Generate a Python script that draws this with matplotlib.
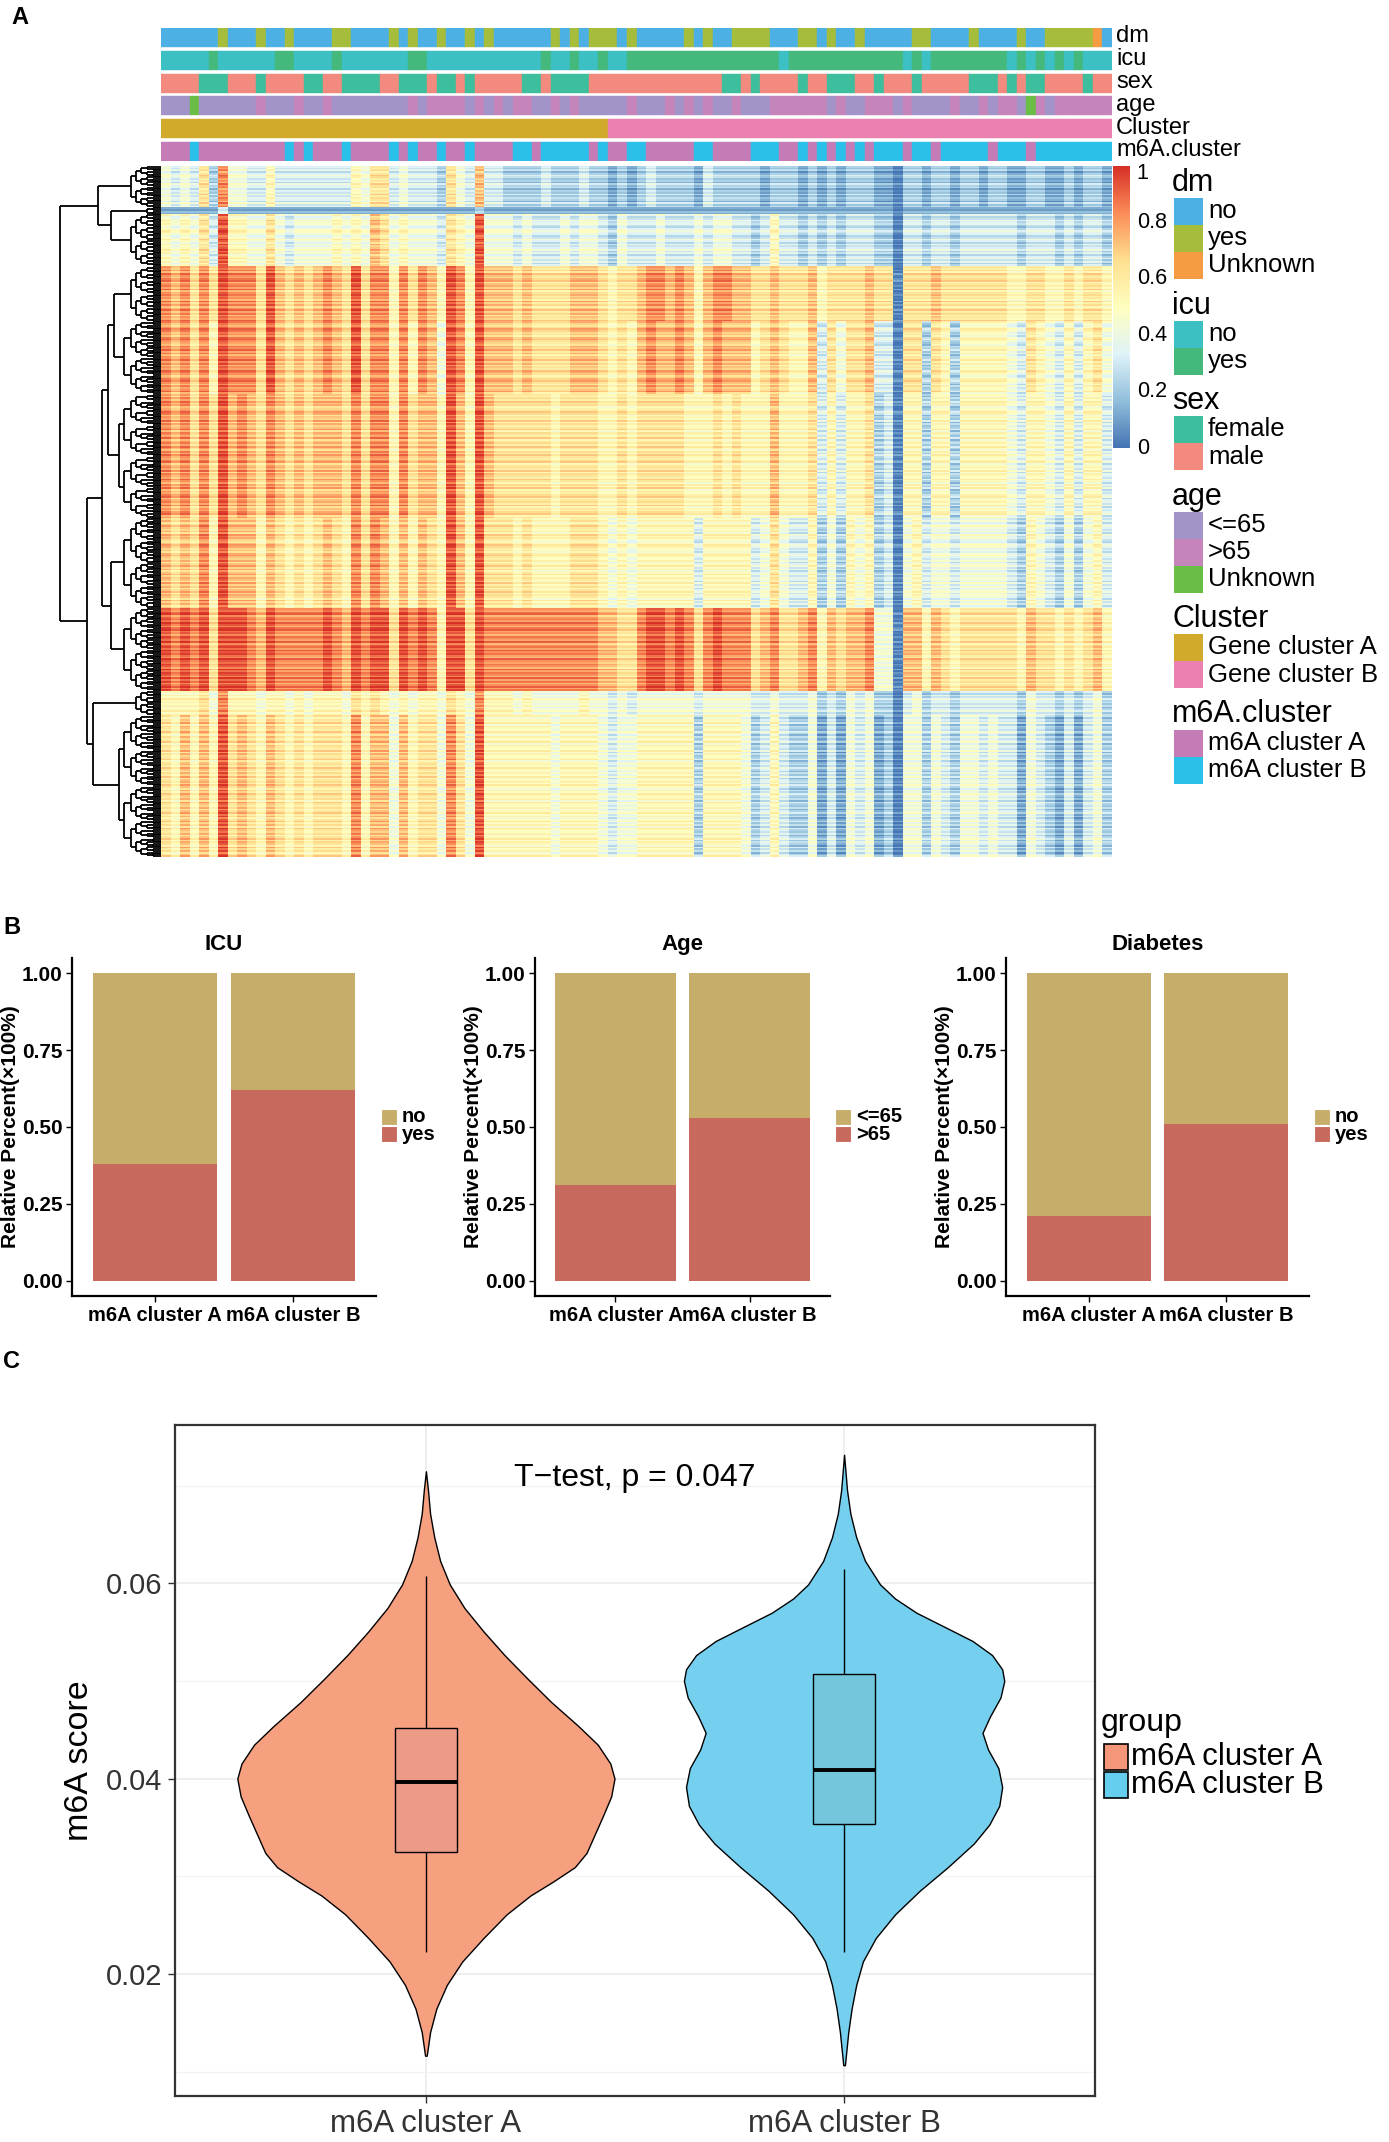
import numpy as np
import matplotlib
matplotlib.use('Agg')
import matplotlib.pyplot as plt
from matplotlib.colors import LinearSegmentedColormap
from matplotlib.patches import Rectangle
from matplotlib.collections import LineCollection

SANS = ['Liberation Sans', 'DejaVu Sans']
plt.rcParams['font.family'] = SANS

W, H = 1389, 2142
fig = plt.figure(figsize=(W / 100, H / 100), dpi=100)


def pax(x0, y0, x1, y1):
    return fig.add_axes([x0 / W, 1 - y1 / H, (x1 - x0) / W, (y1 - y0) / H])

# ---------------------------------------------------------------- data (A)
N_SAMPLES = 100
dm_yes = [6, 10, 13, 18, 19, 24, 26, 29, 32, 34, 41, 43, 45, 46, 47, 49, 55, 57, 60, 61,
          62, 63, 67, 68, 70, 73, 79, 80, 85, 90, 93, 94, 95, 96, 97]
dm_unknown = [98]
icu_yes = [5, 12, 13, 18, 26, 27, 40, 43, 46, 49, 50, 51, 52, 53, 54, 55, 56, 57, 58, 59,
           60, 61, 62, 63, 64, 66, 67, 68, 69, 70, 71, 72, 73, 74, 75, 76, 77, 79, 81, 82,
           83, 84, 85, 86, 87, 88, 90, 92, 94, 96]
sex_female = [4, 5, 6, 10, 15, 16, 19, 20, 21, 22, 25, 26, 27, 29, 30, 32, 38, 39, 41, 42,
              43, 44, 59, 60, 62, 67, 70, 71, 72, 75, 79, 85, 86, 87, 89, 91, 92, 97]
age_gt65 = [10, 14, 17, 26, 28, 29, 30, 31, 33, 35, 37, 38, 41, 43, 49, 53, 55, 57, 60, 64,
            65, 66, 67, 68, 69, 71, 74, 75, 76, 78, 83, 86, 88, 89, 92, 94, 95, 96, 97, 98, 99]
age_unknown = [3, 91]
gene_cluster_A_n = 47
m6a_cluster_B = [3, 13, 15, 19, 24, 26, 29, 32, 37, 38, 40, 41, 42, 43, 44, 46, 49, 50, 56,
                 57, 62, 63, 64, 67, 69, 71, 73, 75, 76, 77, 79, 80, 82, 83, 84, 85, 86, 88,
                 89, 90, 92, 93, 94, 95, 96, 97, 98, 99]

# heatmap: per row-band column levels (digit d -> d/10 + 0.03)
band_cols = [
    "4343628443" "3533333333" "5466343332" "6437332222" "3222322121"
    "2322221322" "2221222121" "2122211022" "1221221221" "1221121221",
    "1111113111" "1111111111" "1111111111" "1112111111" "1111111111"
    "1111111111" "1111111111" "1111111011" "1111111111" "1111111111",
    "5454639554" "4643444454" "5476454443" "6549444343" "3343443243"
    "3343334344" "3323533232" "3233322033" "2332333333" "2333232332",
    "8786869888" "6976767876" "9688586875" "9859777676" "6667776566"
    "7887875788" "7766766675" "6666766066" "6766666665" "5665565665",
    "8786859888" "6976767876" "9688585874" "9859777676" "6667776565"
    "7877875787" "7756765573" "6466733066" "2652555554" "3654353564",
    "8786869787" "6876767776" "8688586775" "9759766666" "6566665565"
    "6666655565" "6555755563" "5355623055" "2552555554" "3554353553",
    "7676859777" "5765656765" "8687575765" "9759666565" "5556665454"
    "5555553555" "5534643352" "4254523045" "3443444443" "2543242453",
    "9898969998" "7988888987" "9899698985" "9969888888" "8888887766"
    "8998986898" "8867866785" "7677844077" "5765666666" "5766565675",
    "5555648555" "4554545554" "6565454554" "6548555454" "4444544343"
    "4444443444" "4433433342" "3243422034" "2332333333" "2433232342",
    "6575759676" "5765656665" "8577475664" "8649555555" "5455554344"
    "5555552555" "5423532241" "3143412044" "2432443433" "1432131342",
]
# per-row streak shifts inside each band (0..4 -> -0.09..+0.09)
band_rows = [
    "213024312042302141320413",
    "2132",
    "301423102432014203124130241302",
    "21304213402314023120413024130214",
    "310243120342103241302241302143201342031240",
    "203142301243021403124032140231420314213402314032142031402134023140213402",
    "1302421304231024312034213024130241320413024132041302",
    "213402314203412032140231423104213204132041302413",
    "20314231302413",
    "3021403214203124032140312402314203140231420314213042130241302413042130241320413024",
]
row_shift = {'0': -0.09, '1': -0.045, '2': 0.0, '3': 0.045, '4': 0.09}

# dendrogram merge heights (px-like distance from heatmap edge)
size_heights = [0, 8, 14, 20, 25, 30, 37, 42, 44]
band_merges = {'b1b2': 50, 'top': 63, 'b3b4': 47, 'b345': 53, 'b67': 50,
               'mid': 59, 'b89': 68, 'rest': 74, 'root': 101}

# colour-bar ticks
cb_ticks = [0, 0.2, 0.4, 0.6, 0.8, 1]
cb_labels = ['0', '0.2', '0.4', '0.6', '0.8', '1']

# ---------------------------------------------------------------- data (B)
groups = ['m6A cluster A', 'm6A cluster B']
icu_yes_frac = [0.38, 0.62]
age_gt65_frac = [0.31, 0.53]
dm_yes_frac = [0.21, 0.51]

# ---------------------------------------------------------------- data (C)
vA_y = [0.07146, 0.06953, 0.06712, 0.0647, 0.06229, 0.05988, 0.05747, 0.05505, 0.05264,
        0.05023, 0.04782, 0.0454, 0.04347, 0.04154, 0.04, 0.03817, 0.03624, 0.03431,
        0.03238, 0.03093, 0.02948, 0.02803, 0.0261, 0.02369, 0.02128, 0.01887, 0.01645,
        0.01404, 0.01163]
vA_w = [0, .005, .010, .020, .034, .057, .092, .138, .188, .243, .300, .364, .411, .441,
        .451, .443, .424, .404, .384, .356, .305, .250, .193, .138, .087, .050, .025, .010,
        .002]
vB_y = [0.07315, 0.06953, 0.06712, 0.0647, 0.06229, 0.05988, 0.05843, 0.05698, 0.05554,
        0.05409, 0.05264, 0.05119, 0.04999, 0.0483, 0.04637, 0.04468, 0.04299, 0.04106,
        0.03913, 0.0372, 0.03527, 0.03334, 0.03093, 0.02852, 0.0261, 0.02369, 0.02128,
        0.01887, 0.01645, 0.01404, 0.01066]
vB_w = [0, .007, .015, .029, .050, .086, .122, .173, .240, .307, .354, .378, .383, .374,
        .349, .331, .344, .369, .378, .371, .347, .310, .248, .181, .122, .076, .045, .029,
        .018, .010, .002]
box_q1 = [0.0325, 0.0353]
box_med = [0.0396, 0.0409]
box_q3 = [0.0452, 0.0507]
whisk_lo = [0.0222, 0.0222]
whisk_hi = [0.0607, 0.0615]
ttest_label = 'T\u2212test, p = 0.047'

# ---------------------------------------------------------------- colours
cmap = LinearSegmentedColormap.from_list(
    'rdylbu', ['#4575B4', '#91BFDB', '#E0F3F8', '#FFFFBF', '#FEE090', '#FC8D59', '#D73027'])
ann_colors = {
    'dm': {'no': '#4DB0E4', 'yes': '#A6BC3B', 'Unknown': '#F59B42'},
    'icu': {'no': '#3CC0C4', 'yes': '#45B97B'},
    'sex': {'female': '#3DBE9C', 'male': '#F38A80'},
    'age': {'<=65': '#A294C8', '>65': '#C585BA', 'Unknown': '#6BBE45'},
    'Cluster': {'Gene cluster A': '#D2AA2B', 'Gene cluster B': '#EA80AE'},
    'm6A.cluster': {'m6A cluster A': '#C57CB6', 'm6A cluster B': '#29C1E9'},
}

k_all = range(N_SAMPLES)
tracks = {
    'dm': ['Unknown' if k in dm_unknown else ('yes' if k in dm_yes else 'no') for k in k_all],
    'icu': ['yes' if k in icu_yes else 'no' for k in k_all],
    'sex': ['female' if k in sex_female else 'male' for k in k_all],
    'age': ['Unknown' if k in age_unknown else ('>65' if k in age_gt65 else '<=65') for k in k_all],
    'Cluster': ['Gene cluster A' if k < gene_cluster_A_n else 'Gene cluster B' for k in k_all],
    'm6A.cluster': ['m6A cluster B' if k in m6a_cluster_B else 'm6A cluster A' for k in k_all],
}
track_order = ['dm', 'icu', 'sex', 'age', 'Cluster', 'm6A.cluster']

# ---------------------------------------------------------------- panel A: annotation
ax_ann = pax(161, 28, 1112, 161)
ax_ann.set_xlim(0, N_SAMPLES)
ax_ann.set_ylim(133, 0)
ax_ann.axis('off')
xs = np.arange(N_SAMPLES) + 0.5
for j, name in enumerate(track_order):
    cols = [ann_colors[name][v] for v in tracks[name]]
    ax_ann.bar(xs, 19, bottom=j * 22.8, width=1.0, color=cols, edgecolor=cols, linewidth=0.3)

# ---------------------------------------------------------------- panel A: heatmap
rows = []
band_ranges = []
r0 = 0
for cols_s, rows_s in zip(band_cols, band_rows):
    base = np.array([int(c) for c in cols_s]) / 10.0 + 0.03
    for ch in rows_s:
        rows.append(np.clip(base + row_shift[ch], 0, 1))
    band_ranges.append((r0, r0 + len(rows_s)))
    r0 += len(rows_s)
M = np.array(rows)
nrows = M.shape[0]
ax_hm = pax(161, 166, 1112, 857)
ax_hm.pcolormesh(np.arange(N_SAMPLES + 1), np.arange(nrows + 1), M, cmap=cmap, vmin=0, vmax=1,
                 shading='flat', edgecolors='none', antialiased=False)
ax_hm.set_xlim(0, N_SAMPLES)
ax_hm.set_ylim(nrows, 0)
ax_hm.axis('off')

# ---------------------------------------------------------------- panel A: dendrogram
segs = []


def merge(a, b, h):
    segs.append([(h, a[0]), (h, b[0])])
    segs.append([(a[1], a[0]), (h, a[0])])
    segs.append([(b[1], b[0]), (h, b[0])])
    return ((a[0] + b[0]) / 2.0, h)


def build(lo, hi):
    n = hi - lo
    if n == 1:
        return (lo + 0.5, 0.0)
    mid = (lo + hi) // 2
    lvl = int(np.ceil(np.log2(n)))
    h = size_heights[min(lvl, len(size_heights) - 1)]
    return merge(build(lo, mid), build(mid, hi), h)


bn = [build(lo, hi) for lo, hi in band_ranges]
t_node = merge(bn[0], merge(bn[1], bn[2], band_merges['b1b2']), band_merges['top'])
y1 = merge(merge(bn[3], bn[4], band_merges['b3b4']), bn[5], band_merges['b345'])
y2 = merge(bn[6], bn[7], band_merges['b67'])
y_node = merge(y1, y2, band_merges['mid'])
z_node = merge(bn[8], bn[9], band_merges['b89'])
x_node = merge(y_node, z_node, band_merges['rest'])
merge(t_node, x_node, band_merges['root'])

ax_dn = pax(55, 166, 161, 857)
ax_dn.add_collection(LineCollection(segs, colors='black', linewidths=1.3))
ax_dn.set_xlim(106, 0)
ax_dn.set_ylim(nrows, 0)
ax_dn.axis('off')

# ---------------------------------------------------------------- colour bar
ax_cb = pax(1113, 166, 1130, 448)
ax_cb.imshow(np.linspace(0, 1, 256)[:, None], aspect='auto', cmap=cmap, origin='lower',
             extent=[0, 1, 0, 1])
ax_cb.set_xticks([])
ax_cb.set_yticks([])
ax_cb.set_ylim(0, 1)
for s in ax_cb.spines.values():
    s.set_visible(False)
for v, lab in zip(cb_ticks, cb_labels):
    yy = min(v, 0.975)
    ax_cb.text(1.4, yy, lab, transform=ax_cb.get_yaxis_transform(), ha='left',
               va='center', fontsize=15.5)

# ---------------------------------------------------------------- panel B
b_axes_x = [(72, 376), (535, 830), (1006, 1309)]
b_titles = ['ICU', 'Age', 'Diabetes']
b_fracs = [icu_yes_frac, age_gt65_frac, dm_yes_frac]
b_levels = [['no', 'yes'], ['<=65', '>65'], ['no', 'yes']]
c_top, c_bot = '#C6AE6A', '#C8695E'
for (x0, x1), title, frac, lev in zip(b_axes_x, b_titles, b_fracs, b_levels):
    ax = pax(x0, 958, x1, 1296)
    frac = np.array(frac)
    ax.bar([1, 2], frac, width=0.9, color=c_bot)
    ax.bar([1, 2], 1 - frac, bottom=frac, width=0.9, color=c_top)
    ax.set_xlim(0.4, 2.6)
    ax.set_ylim(-0.05, 1.05)
    ax.set_yticks([0, 0.25, 0.5, 0.75, 1.0])
    ax.set_yticklabels(['0.00', '0.25', '0.50', '0.75', '1.00'], fontweight='bold',
                       fontsize=15)
    ax.set_xticks([1, 2])
    ax.set_xticklabels(groups, fontweight='bold', fontsize=14.5)
    ax.tick_params(length=4, width=1, pad=3)
    for s in ['top', 'right']:
        ax.spines[s].set_visible(False)
    for s in ['left', 'bottom']:
        ax.spines[s].set_linewidth(1.6)
    ax.set_title(title, fontweight='bold', fontsize=16, pad=6)
    ax.set_ylabel('Relative Percent(\u00d7100%)', fontweight='bold', fontsize=15)
    ax.yaxis.set_label_coords(-52 / (x1 - x0), 0.5)

# ---------------------------------------------------------------- panel C
ax_c = pax(175, 1425, 1095, 2096)
ax_c.set_xlim(0.4, 2.6)
ax_c.set_ylim(0.0075, 0.0762)
ax_c.set_yticks([0.02, 0.04, 0.06])
ax_c.set_yticklabels(['0.02', '0.04', '0.06'], fontsize=21, color='#333333')
ax_c.set_yticks([0.01, 0.03, 0.05, 0.07], minor=True)
ax_c.set_xticks([1, 2])
ax_c.set_xticklabels(groups, fontsize=22.5, color='#333333')
ax_c.grid(True, which='major', color='#EBEBEB', lw=1.2)
ax_c.grid(True, which='minor', axis='y', color='#F3F3F3', lw=0.9)
ax_c.tick_params(which='minor', length=0)
ax_c.tick_params(which='major', length=5, width=1, color='#333333', pad=4)
ax_c.set_axisbelow(True)
for s in ax_c.spines.values():
    s.set_linewidth(1.6)
    s.set_color('#333333')
viol_fill = ['#F6A07F', '#75D0F0']
box_fill = ['#EC9B87', '#74C6DC']
for i, (vy, vw) in enumerate([(vA_y, vA_w), (vB_y, vB_w)]):
    xc = i + 1
    vy = np.array(vy)
    vw = np.array(vw)
    ax_c.fill_betweenx(vy, xc - vw, xc + vw, facecolor=viol_fill[i], edgecolor='black',
                       linewidth=1.0, zorder=2)
ax_c.vlines([1, 2], box_q3, whisk_hi, color='black', lw=1.0, zorder=3)
ax_c.vlines([1, 2], whisk_lo, box_q1, color='black', lw=1.0, zorder=3)
ax_c.bar([1, 2], np.array(box_q3) - np.array(box_q1), bottom=box_q1, width=0.15,
         color=box_fill, edgecolor='black', linewidth=1.0, zorder=3)
ax_c.hlines(box_med, [0.925, 1.925], [1.075, 2.075], color='black', lw=2.8, zorder=4)
ax_c.text(1.5, 0.0708, ttest_label, ha='center', va='center', fontsize=23)
ax_c.set_ylabel('m6A score', fontsize=24.5)
ax_c.yaxis.set_label_coords((95 - 175) / 920, 0.5)

# ---------------------------------------------------------------- overlay: labels & legends
ov = fig.add_axes([0, 0, 1, 1])
ov.set_xlim(0, W)
ov.set_ylim(H, 0)
ov.axis('off')
ov.patch.set_alpha(0)

ov.text(20, 17, 'A', fontsize=17, fontweight='bold', ha='center', va='center')
ov.text(12, 927, 'B', fontsize=17, fontweight='bold', ha='center', va='center')
ov.text(12, 1362, 'C', fontsize=17, fontweight='bold', ha='center', va='center')

for j, name in enumerate(track_order):
    ov.text(1116, 28 + j * 22.8 + 8.5, name, fontsize=17, ha='left', va='center')

t = 183
for name in track_order:
    ov.text(1172, t, name, fontsize=22, ha='left', va='center')
    ky = t + 15
    for lab, col in ann_colors[name].items():
        ov.add_patch(Rectangle((1174, ky), 29, 27, facecolor=col, edgecolor='none'))
        ov.text(1208, ky + 13.5, lab, fontsize=18.5, ha='left', va='center')
        ky += 27
    t = ky + 26.5

for (x0, x1), lev in zip(b_axes_x, b_levels):
    for m, (lab, col) in enumerate(zip(lev, [c_top, c_bot])):
        y0 = 1109 + m * 17
        ov.add_patch(Rectangle((x1 + 5, y0), 16, 16, facecolor=col, edgecolor='white', lw=0.8))
        ov.text(x1 + 26, y0 + 8, lab, fontweight='bold', fontsize=14.5,
                ha='left', va='center')

ov.text(1101, 1723, 'group', fontsize=23, ha='left', va='center')
for m, (lab, col) in enumerate(zip(groups, ['#F4967A', '#65CDEE'])):
    y0 = 1744 + m * 28
    ov.add_patch(Rectangle((1104, y0), 24, 26, facecolor=col, edgecolor='black', lw=1.2))
    ov.text(1131, y0 + 13, lab, fontsize=22.5, ha='left', va='center')

fig.savefig('out.png', dpi=100)
